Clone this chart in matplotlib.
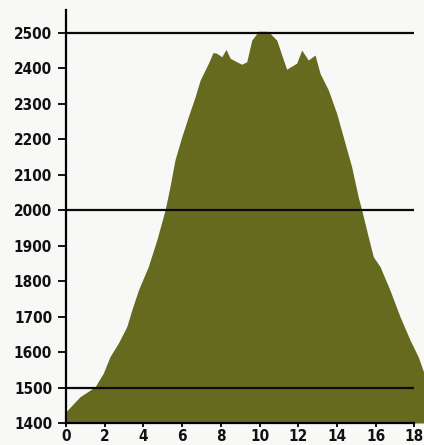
import matplotlib
matplotlib.use("Agg")
import matplotlib.pyplot as plt

# values
x_vals = [0, 0.72, 1.5, 1.93, 2.27, 2.7, 3.14, 3.4, 3.74, 4.25, 4.69, 5.12, 5.37,
          5.63, 5.98, 6.32, 6.67, 6.93, 7.35, 7.6, 7.79, 8.05, 8.27, 8.48, 8.82,
          9.08, 9.34, 9.6, 9.94, 10.44, 10.89, 11.4, 11.92, 12.18, 12.52, 12.87,
          13.13, 13.56, 13.99, 14.42, 14.76, 15.1, 15.28, 15.62, 15.88, 16.23,
          16.74, 17.26, 17.78, 18.2, 18.5]
y_vals = [1432, 1474, 1502, 1541, 1587, 1625, 1672, 1719, 1775, 1841, 1916, 2001,
          2066, 2142, 2207, 2264, 2320, 2367, 2414, 2445, 2443, 2433, 2454, 2429,
          2419, 2412, 2419, 2480, 2505, 2505, 2480, 2398, 2415, 2452, 2424, 2438,
          2386, 2339, 2273, 2189, 2123, 2038, 2001, 1925, 1869, 1841, 1775, 1700,
          1634, 1587, 1541]
ref_lines = [1500, 2000, 2500]
y_ticks = list(range(1400, 2501, 100))
x_ticks = list(range(0, 19, 2))

bg = "#f8f9f7"
fill_color = "#666a1f"

fig = plt.figure(figsize=(4.24, 4.45), dpi=100, facecolor=bg)
ax = fig.add_axes([66 / 424, 22 / 445, (424 - 66) / 424, (435 - 22) / 445])
ax.set_facecolor(bg)

ax.fill_between(x_vals, 1400, y_vals, color=fill_color, linewidth=0, zorder=1)
for v in ref_lines:
    ax.plot([0, 18], [v, v], color="#0a0a0a", linewidth=1.6, zorder=2,
            solid_capstyle="butt")

ax.set_xlim(0, 18.5)
ax.set_ylim(1400, 2565)
ax.set_xticks(x_ticks)
ax.set_yticks(y_ticks)

for side in ["top", "right"]:
    ax.spines[side].set_visible(False)
ax.spines["left"].set_linewidth(1.6)
ax.spines["bottom"].set_linewidth(1.6)
ax.spines["bottom"].set_bounds(0, 18)
ax.spines["left"].set_zorder(3)
ax.spines["bottom"].set_zorder(3)

ax.tick_params(axis="y", direction="out", length=6, width=1.4, pad=4,
               labelsize=11, colors="#111111")
ax.tick_params(axis="x", direction="out", length=3, width=1.4, pad=1.5,
               labelsize=11, colors="#111111")
for lab in ax.get_xticklabels() + ax.get_yticklabels():
    lab.set_fontweight("bold")
    lab.set_fontstretch("condensed")

plt.savefig("out.png", dpi=100, facecolor=bg)
